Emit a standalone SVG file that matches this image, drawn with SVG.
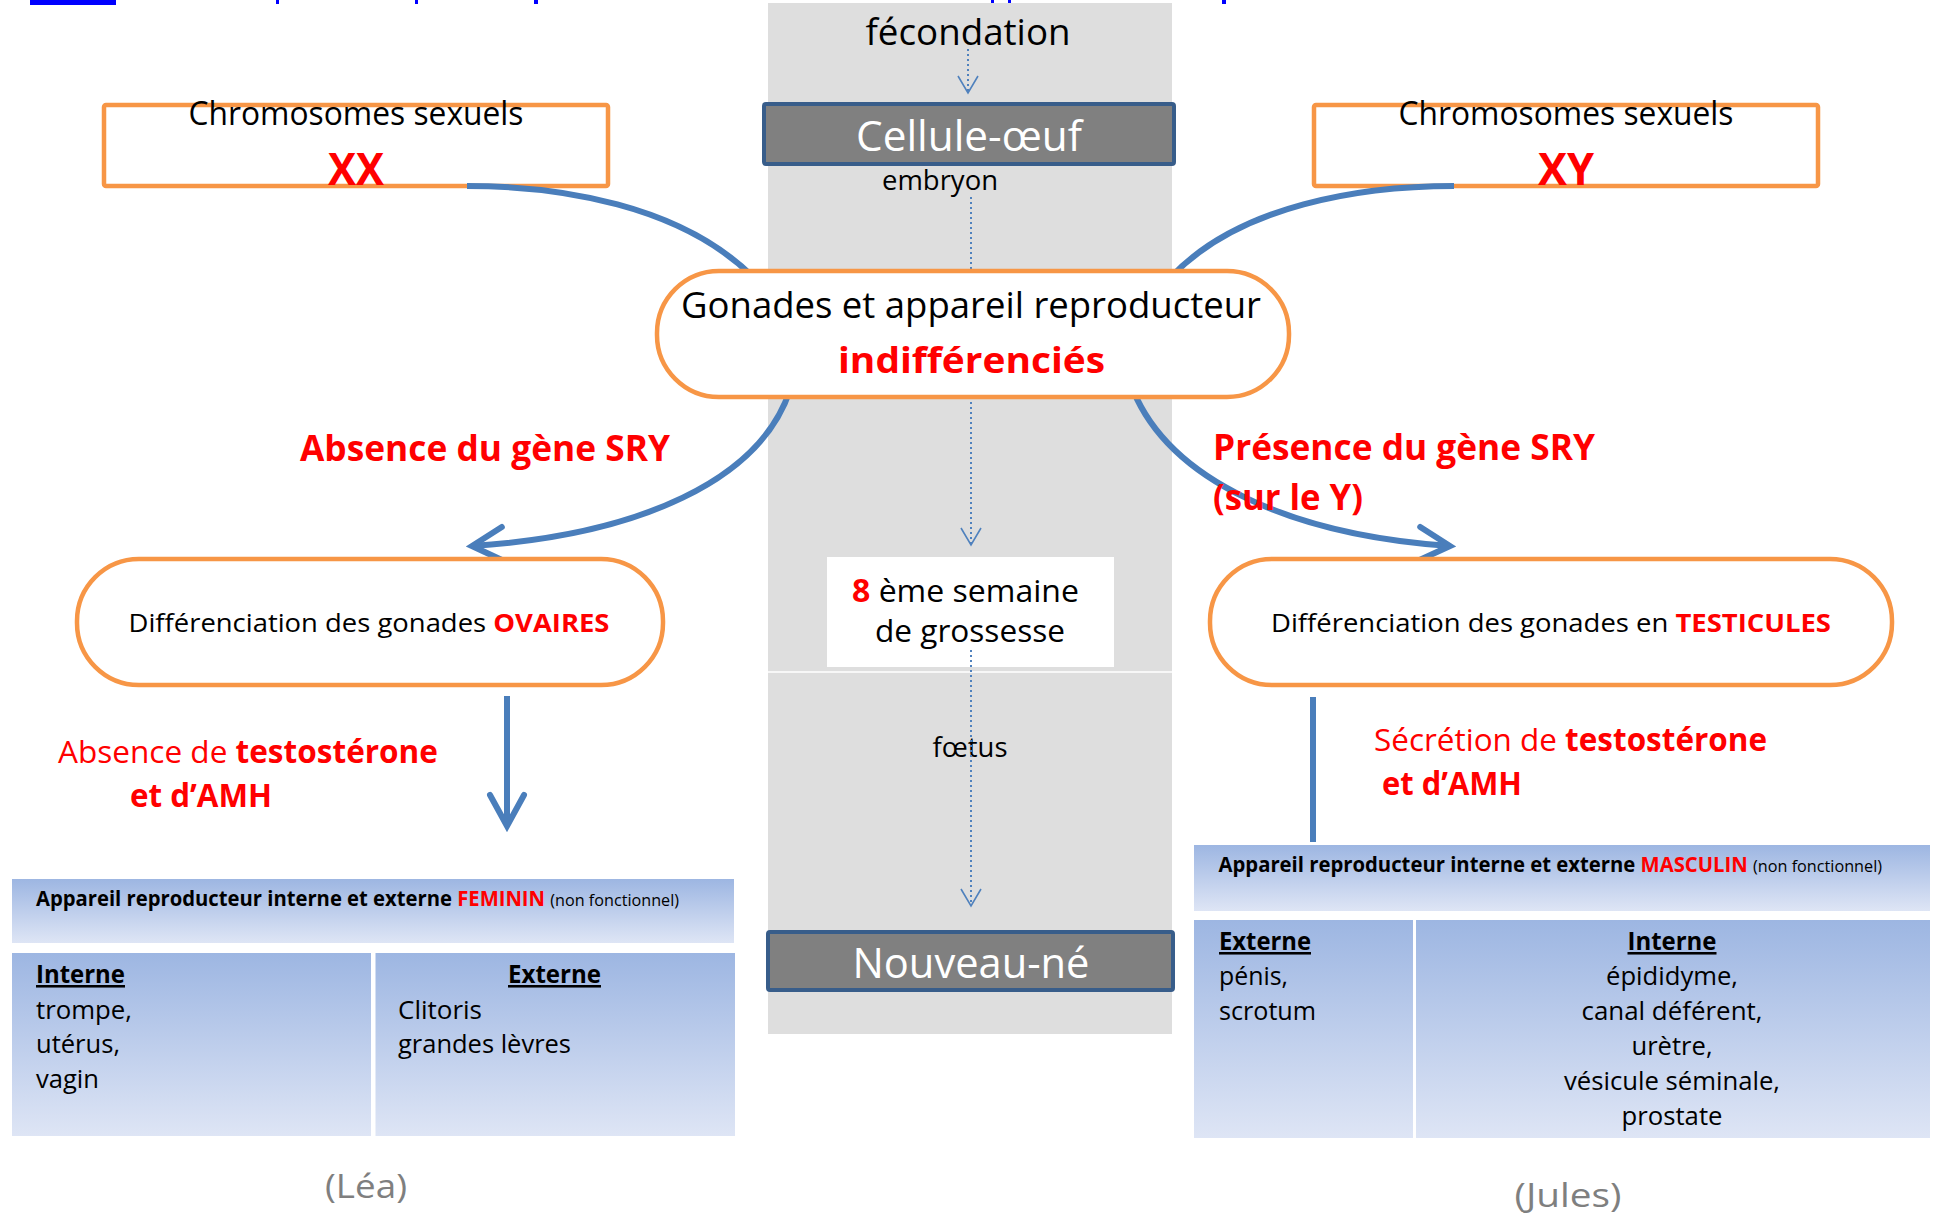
<svg xmlns="http://www.w3.org/2000/svg" width="1934" height="1218" viewBox="0 0 1934 1218">
<defs>
<linearGradient id="tg" x1="0" y1="0" x2="0" y2="1"><stop offset="0" stop-color="#9DB6E2"/><stop offset="1" stop-color="#DEE5F5"/></linearGradient>
<marker id="bigArrow" markerUnits="userSpaceOnUse" markerWidth="80" markerHeight="80" viewBox="-40 -40 80 80" refX="0" refY="0" orient="auto"><path d="M-31,-17 L0,0 L-31,17" fill="none" stroke="#4A7EBB" stroke-width="6" stroke-linecap="round"/></marker>
<marker id="dotArrow" markerUnits="userSpaceOnUse" markerWidth="40" markerHeight="40" viewBox="-20 -20 40 40" refX="0" refY="0" orient="auto"><path d="M-17,-10 L0,0 L-17,10" fill="none" stroke="#4F81BD" stroke-width="1.6"/></marker>
</defs>
<style>
text{font-family:"Open Sans","Liberation Sans",sans-serif;fill:#000}
.b{font-weight:bold}
.n{font-weight:normal}
.red{fill:#FF0000}
.blk{fill:#000000}
.white{fill:#FFFFFF}
.grey{fill:#7F7F7F}
.orange{fill:#FFFFFF;stroke:#F79646;stroke-width:4.5}
.gray{fill:#808080;stroke:#385D8A;stroke-width:4}
.curve{fill:none;stroke:#4A7EBB;stroke-width:6}
.dots{fill:none;stroke:#4F81BD;stroke-width:2;stroke-dasharray:2 3}
.cell{fill:url(#tg)}
.u{text-decoration:underline}
</style>
<rect width="1934" height="1218" fill="#FFFFFF"/>

<!-- title fragment (cut off at top) -->
<g id="title-fragment" fill="#0000FF">
<rect x="30" y="0" width="86" height="5"/>
<rect x="276" y="0" width="3" height="4"/>
<rect x="415" y="0" width="3" height="4"/>
<rect x="534" y="0" width="4" height="4"/>
<rect x="991" y="0" width="3" height="4"/>
<rect x="1008" y="0" width="3" height="4"/>
<rect x="1222" y="0" width="4" height="4"/>
</g>

<!-- central timeline band -->
<g id="band">
<rect x="768" y="3" width="404" height="1031" fill="#DEDEDE"/>
<line x1="768" y1="672" x2="1172" y2="672" stroke="#FFFFFF" stroke-width="1.5"/>
<text x="968" y="45" font-size="36.5" text-anchor="middle" textLength="205" lengthAdjust="spacingAndGlyphs">fécondation</text>
<text x="940" y="190" font-size="27" text-anchor="middle" textLength="116" lengthAdjust="spacingAndGlyphs">embryon</text>
<text x="970" y="757" font-size="26.5" text-anchor="middle" textLength="75" lengthAdjust="spacingAndGlyphs">fœtus</text>
</g>

<g id="xx-box">
<rect class="orange" x="104" y="105" width="504" height="81" rx="2"/>
<text x="356" y="125" font-size="32" text-anchor="middle" textLength="335" lengthAdjust="spacingAndGlyphs">Chromosomes sexuels</text>
<text x="356" y="185" font-size="45" class="b red" text-anchor="middle" textLength="56" lengthAdjust="spacingAndGlyphs">XX</text>
</g>

<g id="xy-box">
<rect class="orange" x="1314" y="105" width="504" height="81" rx="2"/>
<text x="1566" y="125" font-size="32" text-anchor="middle" textLength="335" lengthAdjust="spacingAndGlyphs">Chromosomes sexuels</text>
<text x="1566" y="185" font-size="45" class="b red" text-anchor="middle" textLength="56" lengthAdjust="spacingAndGlyphs">XY</text>
</g>

<g id="cellule-oeuf">
<rect class="gray" x="764" y="104" width="410" height="60" rx="2"/>
<text x="969" y="151" font-size="42" class="white" text-anchor="middle" textLength="226" lengthAdjust="spacingAndGlyphs">Cellule-œuf</text>
</g>

<g id="semaine-8">
<rect x="827" y="557" width="287" height="110" fill="#FFFFFF"/>
<text x="852" y="602" font-size="31.5" textLength="227" lengthAdjust="spacingAndGlyphs"><tspan class="b red">8</tspan> ème semaine</text>
<text x="970" y="642" font-size="31.5" text-anchor="middle" textLength="190" lengthAdjust="spacingAndGlyphs">de grossesse</text>
</g>

<g id="nouveau-ne">
<rect class="gray" x="768" y="932" width="405" height="58" rx="2"/>
<text x="971" y="978" font-size="42" class="white" text-anchor="middle" textLength="237" lengthAdjust="spacingAndGlyphs">Nouveau-né</text>
</g>

<!-- connectors -->
<g id="connectors">
<line class="dots" x1="968" y1="49" x2="968" y2="93" marker-end="url(#dotArrow)"/>
<line class="dots" x1="971" y1="197" x2="971" y2="545" marker-end="url(#dotArrow)"/>
<line class="dots" x1="971" y1="650" x2="971" y2="906" marker-end="url(#dotArrow)"/>
<path class="curve" d="M467,186 C560,186 680,205 752,276"/>
<path class="curve" d="M1454,186 C1361,186 1240,205 1172,276"/>
<path class="curve" d="M790,390 C760,480 640,535 472,546" marker-end="url(#bigArrow)"/>
<path class="curve" d="M1133,390 C1170,480 1290,535 1450,546" marker-end="url(#bigArrow)"/>
<line class="curve" x1="507" y1="696" x2="507" y2="826" marker-end="url(#bigArrow)"/>
<line class="curve" x1="1313" y1="697" x2="1313" y2="842"/>
</g>

<g id="indifferencies">
<rect class="orange" x="657" y="271" width="632" height="126" rx="62"/>
<text x="971" y="318" font-size="36.5" text-anchor="middle" textLength="580" lengthAdjust="spacingAndGlyphs">Gonades et appareil reproducteur</text>
<text x="971.5" y="373" font-size="36.5" class="b red" text-anchor="middle" textLength="267" lengthAdjust="spacingAndGlyphs">indifférenciés</text>
</g>

<g id="ovaires">
<rect class="orange" x="77" y="559" width="586" height="126" rx="62"/>
<text x="128.5" y="632" font-size="25.5" textLength="481" lengthAdjust="spacingAndGlyphs">Différenciation des gonades <tspan class="b red">OVAIRES</tspan></text>
</g>

<g id="testicules">
<rect class="orange" x="1210" y="559" width="682" height="126" rx="62"/>
<text x="1271" y="632" font-size="25.5" textLength="560" lengthAdjust="spacingAndGlyphs">Différenciation des gonades en <tspan class="b red">TESTICULES</tspan></text>
</g>

<!-- labels -->
<g id="labels">
<text x="300" y="461" font-size="36.5" class="b red" textLength="370" lengthAdjust="spacingAndGlyphs">Absence du gène SRY</text>
<text x="1213" y="460" font-size="36.5" class="b red" textLength="382" lengthAdjust="spacingAndGlyphs">Présence du gène SRY</text>
<text x="1213" y="510" font-size="36.5" class="b red" textLength="150" lengthAdjust="spacingAndGlyphs">(sur le Y)</text>
<text x="58" y="763" font-size="31.5" class="red" textLength="380" lengthAdjust="spacingAndGlyphs">Absence de <tspan class="b">testostérone</tspan></text>
<text x="130" y="807" font-size="31.5" class="b red" textLength="142" lengthAdjust="spacingAndGlyphs">et d’AMH</text>
<text x="1374" y="751" font-size="31.5" class="red" textLength="393" lengthAdjust="spacingAndGlyphs">Sécrétion de <tspan class="b">testostérone</tspan></text>
<text x="1382" y="795" font-size="31.5" class="b red" textLength="140" lengthAdjust="spacingAndGlyphs">et d’AMH</text>
<text x="366" y="1198" font-size="33" class="grey" text-anchor="middle" textLength="82" lengthAdjust="spacingAndGlyphs">(Léa)</text>
<text x="1568" y="1207" font-size="33" class="grey" text-anchor="middle" textLength="107" lengthAdjust="spacingAndGlyphs">(Jules)</text>
</g>

<g id="feminin-table">
<rect class="cell" x="12" y="879" width="722" height="64"/>
<text x="36" y="906" font-size="21" class="b" textLength="643" lengthAdjust="spacingAndGlyphs">Appareil reproducteur interne et externe  <tspan class="red">FEMININ</tspan> <tspan class="n blk" font-size="16.8">(non fonctionnel)</tspan></text>
<rect class="cell" x="12" y="953" width="359" height="183"/>
<rect class="cell" x="375.5" y="953" width="359.5" height="183"/>
<text x="36" y="983" font-size="25.5" class="b u" textLength="89" lengthAdjust="spacingAndGlyphs">Interne</text>
<text x="36" y="1019" font-size="25.5" textLength="96" lengthAdjust="spacingAndGlyphs">trompe,</text>
<text x="36" y="1053" font-size="25.5" textLength="84" lengthAdjust="spacingAndGlyphs">utérus,</text>
<text x="36" y="1088" font-size="25.5" textLength="63" lengthAdjust="spacingAndGlyphs">vagin</text>
<text x="554.5" y="983" font-size="25.5" class="b u" text-anchor="middle" textLength="93" lengthAdjust="spacingAndGlyphs">Externe</text>
<text x="398" y="1019" font-size="25.5" textLength="84" lengthAdjust="spacingAndGlyphs">Clitoris</text>
<text x="398" y="1053" font-size="25.5" textLength="173" lengthAdjust="spacingAndGlyphs">grandes lèvres</text>
</g>

<g id="masculin-table">
<rect class="cell" x="1194" y="845" width="736" height="66"/>
<text x="1218.5" y="872" font-size="21" class="b" textLength="663.5" lengthAdjust="spacingAndGlyphs">Appareil reproducteur interne et externe <tspan class="red">MASCULIN</tspan>  <tspan class="n blk" font-size="16.8">(non fonctionnel)</tspan></text>
<rect class="cell" x="1194" y="920" width="219" height="218"/>
<rect class="cell" x="1416" y="920" width="514" height="218"/>
<text x="1219" y="950" font-size="25.5" class="b u" textLength="92" lengthAdjust="spacingAndGlyphs">Externe</text>
<text x="1219" y="985" font-size="25.5" textLength="69" lengthAdjust="spacingAndGlyphs">pénis,</text>
<text x="1219" y="1020" font-size="25.5" textLength="97" lengthAdjust="spacingAndGlyphs">scrotum</text>
<text x="1672" y="950" font-size="25.5" class="b u" text-anchor="middle" textLength="89" lengthAdjust="spacingAndGlyphs">Interne</text>
<text x="1672" y="985" font-size="25.5" text-anchor="middle" textLength="132" lengthAdjust="spacingAndGlyphs">épididyme,</text>
<text x="1672" y="1020" font-size="25.5" text-anchor="middle" textLength="181" lengthAdjust="spacingAndGlyphs">canal déférent,</text>
<text x="1672" y="1055" font-size="25.5" text-anchor="middle" textLength="81" lengthAdjust="spacingAndGlyphs">urètre,</text>
<text x="1672" y="1090" font-size="25.5" text-anchor="middle" textLength="216" lengthAdjust="spacingAndGlyphs">vésicule séminale,</text>
<text x="1672" y="1125" font-size="25.5" text-anchor="middle" textLength="101" lengthAdjust="spacingAndGlyphs">prostate</text>
</g>
</svg>
